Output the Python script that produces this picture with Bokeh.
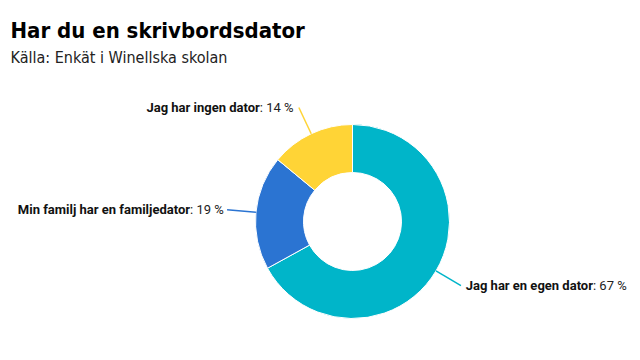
import math
from bokeh.plotting import figure
from bokeh.models import Range1d, ColumnDataSource
from bokeh.core.properties import value
from bokeh.embed import file_html
from bokeh.resources import INLINE

# ---- data ----
categories = ["Jag har en egen dator", "Min familj har en familjedator", "Jag har ingen dator"]
shares = [67, 19, 14]
colors = ["#00b5c9", "#2b74d2", "#ffd436"]
title_text = "Har du en skrivbordsdator"
subtitle_text = "Källa: Enkät i Winellska skolan"

# ---- layout (data units = page pixels) ----
W, H = 636, 352
FONT_T = "DejaVu Sans Condensed"
FONT = "Roboto"
cx, cy = 352, 221          # donut centre
r_in, r_out = 49, 97
r_conn = 126
bold_w = [127, None, None]     # width of bold part (right-side labels)
norm_w = [None, 32, 34]        # width of normal part (left-side labels)

p = figure(width=W, height=H, output_backend="svg", toolbar_location=None,
           x_range=Range1d(0, W), y_range=Range1d(H, 0), min_border=0)
p.axis.visible = False
p.grid.visible = False
p.outline_line_color = None
p.background_fill_color = "white"

total = sum(shares)
starts, ends, mids = [], [], []
acc = 0.0
for s in shares:
    a0 = math.pi / 2 - 2 * math.pi * acc / total
    a1 = math.pi / 2 - 2 * math.pi * (acc + s) / total
    starts.append(a0)
    ends.append(a1)
    mids.append((a0 + a1) / 2)
    acc += s

src = ColumnDataSource(dict(start=starts, end=ends, color=colors))
p.annular_wedge(x=cx, y=cy, inner_radius=r_in, outer_radius=r_out,
                inner_radius_units="screen", outer_radius_units="screen",
                start_angle="start", end_angle="end", direction="clock",
                fill_color="color", line_color="white", line_width=1, source=src)

for i, (cat, s, col, m) in enumerate(zip(categories, shares, colors, mids)):
    x0 = cx + r_out * math.cos(m)
    y0 = cy - r_out * math.sin(m)
    x1 = cx + r_conn * math.cos(m)
    y1 = cy - r_conn * math.sin(m)
    p.line([x0, x1], [y0, y1], line_color=col, line_width=1.5)
    right = math.cos(m) > 0
    if right:
        j = x1 + 5 + bold_w[i]
    else:
        j = x1 - 5 - norm_w[i]
    p.text(x=[j], y=[y1], text=[cat], text_font=value(FONT), text_font_style="bold",
           text_font_size="13px", text_align="right", text_baseline="middle", text_color="#111111")
    p.text(x=[j], y=[y1], text=[f": {s} %"], text_font=value(FONT),
           text_font_size="13px", text_align="left", text_baseline="middle", text_color="#222222")

p.text(x=[10], y=[30], text=[title_text], text_font=value(FONT_T), text_font_style="bold",
       text_font_size="22px", text_align="left", text_baseline="alphabetic", text_color="#000000")
p.text(x=[10], y=[57], text=[subtitle_text], text_font=value(FONT_T),
       text_font_size="16px", text_align="left", text_baseline="alphabetic", text_color="#222222")

open("out.html", "w").write(file_html(p, INLINE))
